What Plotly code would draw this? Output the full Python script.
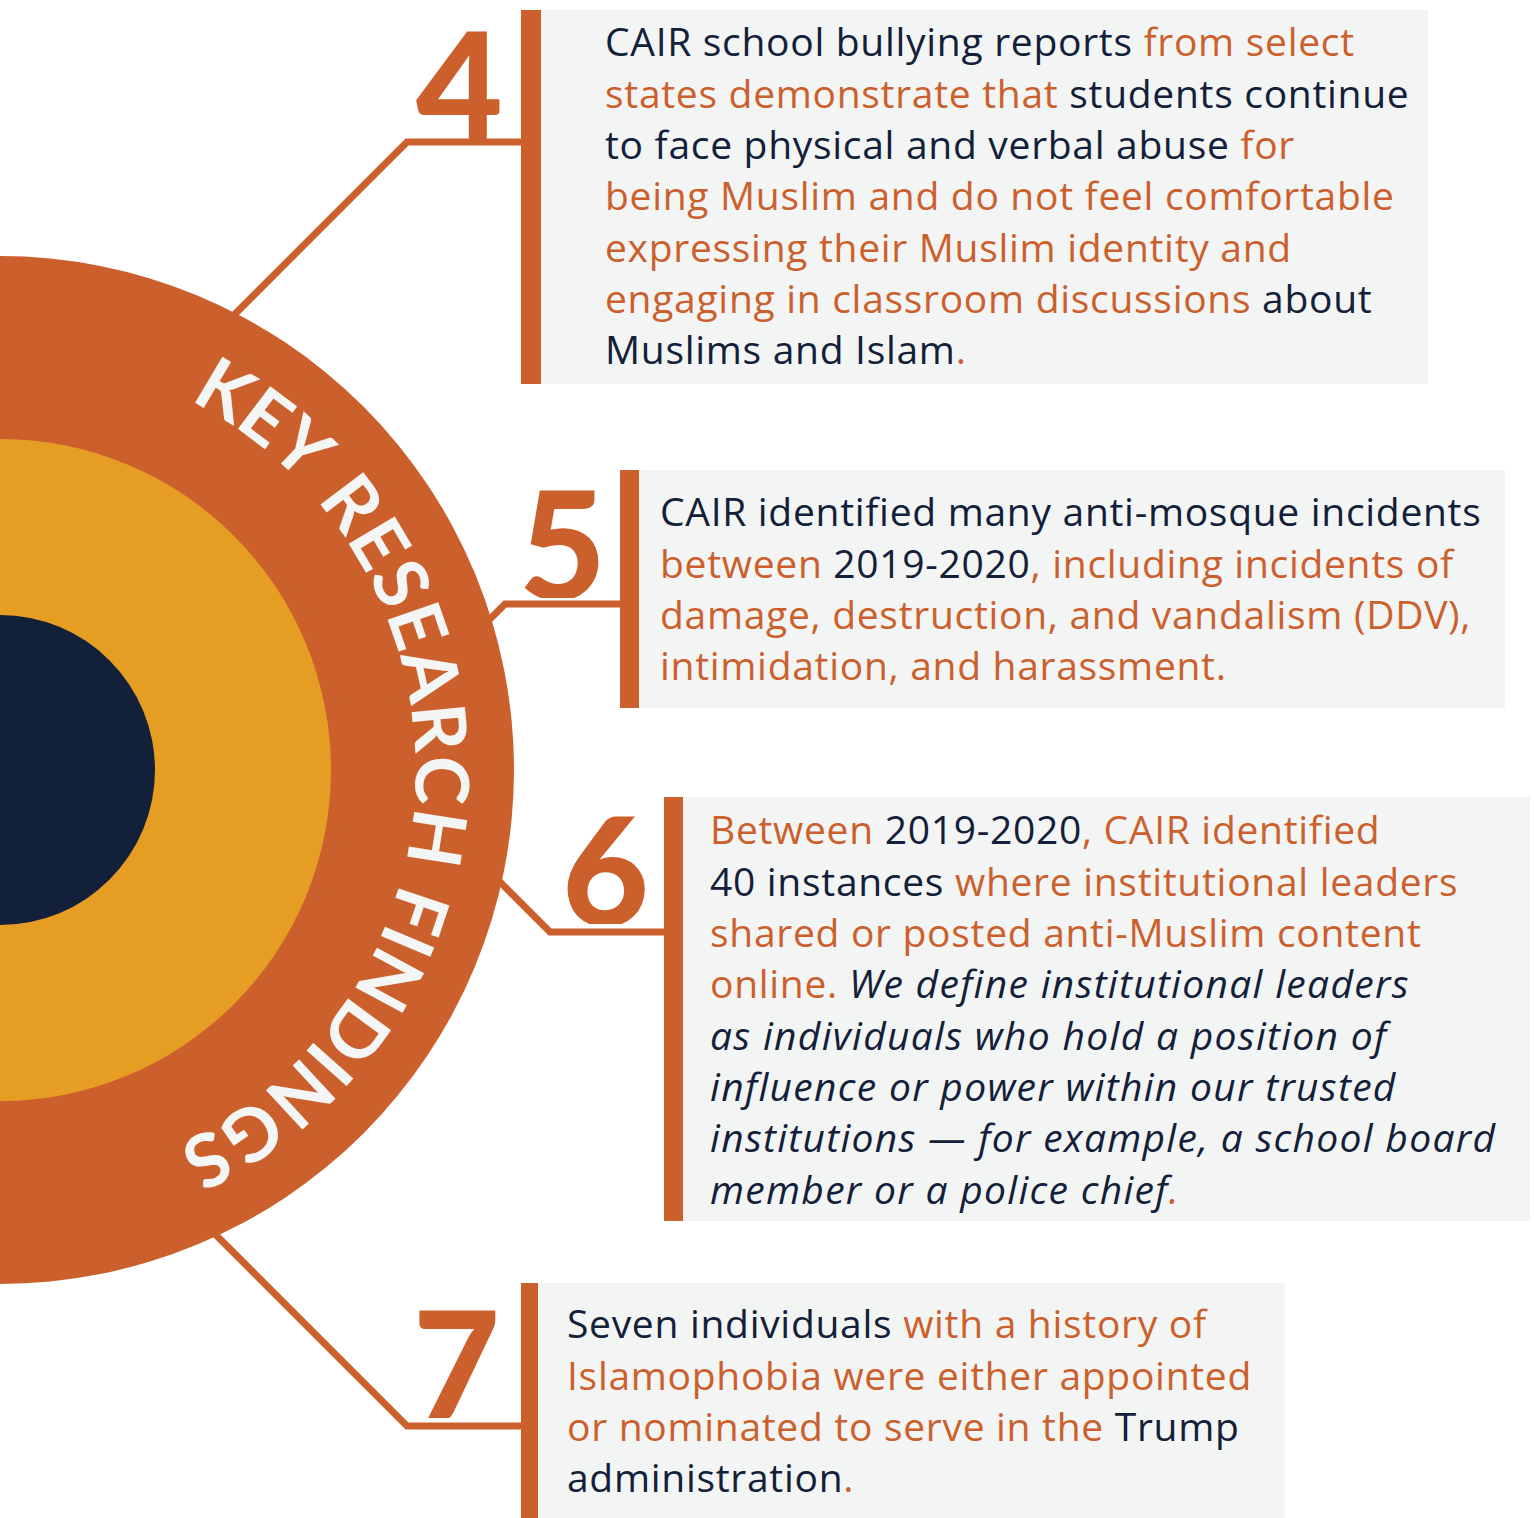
import math
import plotly.graph_objects as go

# ---------------- data (text content) ----------------
ring_title = "KEY RESEARCH FINDINGS"
finding_numbers = ["4", "5", "6", "7"]

# each line: list of (style, text); n = navy, o = orange, ni/oi = italic
finding_4 = [
    [("n", "CAIR school bullying reports "), ("o", "from select")],
    [("o", "states demonstrate that "), ("n", "students continue")],
    [("n", "to face physical and verbal abuse "), ("o", "for")],
    [("o", "being Muslim and do not feel comfortable")],
    [("o", "expressing their Muslim identity and")],
    [("o", "engaging in classroom discussions "), ("n", "about")],
    [("n", "Muslims and Islam"), ("o", ".")],
]
finding_5 = [
    [("n", "CAIR identified many anti-mosque incidents")],
    [("o", "between "), ("n", "2019-2020"), ("o", ", including incidents of")],
    [("o", "damage, destruction, and vandalism (DDV),")],
    [("o", "intimidation, and harassment.")],
]
finding_6 = [
    [("o", "Between "), ("n", "2019-2020"), ("o", ", CAIR identified")],
    [("n", "40 instances "), ("o", "where institutional leaders")],
    [("o", "shared or posted anti-Muslim content")],
    [("o", "online. "), ("ni", "We define institutional leaders")],
    [("ni", "as individuals who hold a position of")],
    [("ni", "influence or power within our trusted")],
    [("ni", "institutions \u2014 for example, a school board")],
    [("ni", "member or a police chief"), ("oi", ".")],
]
finding_7 = [
    [("n", "Seven individuals "), ("o", "with a history of")],
    [("o", "Islamophobia were either appointed")],
    [("o", "or nominated to serve in the "), ("n", "Trump")],
    [("n", "administration"), ("o", ".")],
]
findings = [finding_4, finding_5, finding_6, finding_7]

# ---------------- style / layout ----------------
W, H = 1534, 1518
NAVY = "#13203a"
ORANGE = "#cc602d"
GOLD = "#e69d24"
GREY = "#f3f5f4"
LETTER = "#f4f6f5"
BODY_FONT = "Open Sans"
NUM_FONT = "Lato"
ARC_FONT = "Lato"

CX, CY = 0, 770
R_OUT, R_MID, R_IN = 514, 331, 155

BOX_LAYOUT = [
    dict(bar_x=521, bar_w=20, x1=1428, y0=10, y1=384, text_x=603, base0=55,
         num_x=459, num_y=83, conn_x=407, conn_y=142, diag=1),
    dict(bar_x=620, bar_w=19, x1=1505, y0=470, y1=708, text_x=658, base0=525,
         num_x=562, num_y=542, conn_x=505, conn_y=604, diag=1),
    dict(bar_x=664, bar_w=19, x1=1530, y0=797, y1=1221, text_x=708, base0=843,
         num_x=605, num_y=868, conn_x=550, conn_y=932, diag=-1),
    dict(bar_x=521, bar_w=17, x1=1285, y0=1283, y1=1518, text_x=565, base0=1337,
         num_x=456, num_y=1362, conn_x=407, conn_y=1426, diag=-1),
]
LINE_GAP = 51.3
BODY_SIZE = 39
SPACING = {"n": 0.7, "o": 0.7, "ni": 1.3, "oi": 1.3}
NUM_SIZE = 150
NUM_BOX_H = 112
LINE_W = 7

ARC_R = 444
ARC_START, ARC_END = 59.3, -62.0
ARC_SIZE = 74
LETTER_W = {"K": .64, "E": .56, "Y": .62, " ": .28, "R": .63, "S": .56, "A": .68,
            "C": .68, "H": .74, "F": .53, "I": .28, "N": .76, "D": .74, "G": .74}

COLORS = {"n": NAVY, "o": ORANGE, "ni": NAVY, "oi": ORANGE}

fig = go.Figure()
shapes = []
annotations = []

# connectors (drawn first so the circle covers their ends)
for b in BOX_LAYOUT:
    x0, y0, s = b["conn_x"], b["conn_y"], b["diag"]
    ax, ay = x0 - CX, y0 - CY
    a = 2.0
    bb = -2 * ax + 2 * s * ay
    c = ax * ax + ay * ay - R_OUT ** 2
    t = (-bb - math.sqrt(bb * bb - 4 * a * c)) / (2 * a)
    t += 25
    shapes.append(dict(type="path",
                       path=f"M {b['bar_x']} {y0} L {x0} {y0} L {x0 - t} {y0 + s * t}",
                       line=dict(color=ORANGE, width=LINE_W), layer="above"))

# concentric circles
for r, col in [(R_OUT, ORANGE), (R_MID, GOLD), (R_IN, NAVY)]:
    shapes.append(dict(type="circle", x0=CX - r, x1=CX + r, y0=CY - r, y1=CY + r,
                       fillcolor=col, line=dict(width=0), layer="above"))

# boxes
for b in BOX_LAYOUT:
    shapes.append(dict(type="rect", x0=b["bar_x"] + b["bar_w"], x1=b["x1"],
                       y0=b["y0"], y1=b["y1"], fillcolor=GREY, line=dict(width=0)))
    shapes.append(dict(type="rect", x0=b["bar_x"], x1=b["bar_x"] + b["bar_w"],
                       y0=b["y0"], y1=b["y1"], fillcolor=ORANGE, line=dict(width=0)))

# numbers
for num, b in zip(finding_numbers, BOX_LAYOUT):
    annotations.append(dict(x=b["num_x"], y=b["num_y"], text=num, showarrow=False,
                            xanchor="center", yanchor="middle", height=NUM_BOX_H,
                            valign="middle", borderpad=0,
                            font=dict(family=NUM_FONT, size=NUM_SIZE, color=ORANGE, weight=900)))

# body text
def seg_html(style, txt):
    t = txt.replace("&", "&amp;")
    h = f"<span style='color:{COLORS[style]};letter-spacing:{SPACING[style]}px'>{t}</span>"
    if style.endswith("i"):
        h = f"<i>{h}</i>"
    return h

for lines, b in zip(findings, BOX_LAYOUT):
    for i, line in enumerate(lines):
        base = b["base0"] + i * LINE_GAP
        html = "".join(seg_html(s, t) for s, t in line)
        annotations.append(dict(x=b["text_x"], y=base - 0.36 * BODY_SIZE, text=html,
                                showarrow=False, xanchor="left", yanchor="middle",
                                align="left",
                                font=dict(family=BODY_FONT, size=BODY_SIZE, color=NAVY)))

# curved title
widths = [LETTER_W.get(ch, .6) for ch in ring_title]
centers = []
acc = 0.0
for w in widths:
    centers.append(acc + w / 2)
    acc += w
c0, c1 = centers[0], centers[-1]
for ch, cpos in zip(ring_title, centers):
    if ch == " ":
        continue
    th = ARC_START + (ARC_END - ARC_START) * (cpos - c0) / (c1 - c0)
    rad = math.radians(th)
    x = CX + ARC_R * math.cos(rad)
    y = CY - ARC_R * math.sin(rad)
    annotations.append(dict(x=x, y=y, text=ch, showarrow=False, xanchor="center",
                            yanchor="middle", textangle=90 - th,
                            font=dict(family=ARC_FONT, size=ARC_SIZE, color=LETTER, weight=700)))

fig.update_layout(
    width=W, height=H,
    margin=dict(l=0, r=0, t=0, b=0),
    paper_bgcolor="white", plot_bgcolor="white",
    xaxis=dict(range=[0, W], visible=False, fixedrange=True),
    yaxis=dict(range=[H, 0], visible=False, fixedrange=True),
    shapes=shapes, annotations=annotations, showlegend=False,
)
fig.write_html("out.html", config={"displayModeBar": False},
               post_script="document.body.style.margin='0px';document.body.style.padding='0px';")
